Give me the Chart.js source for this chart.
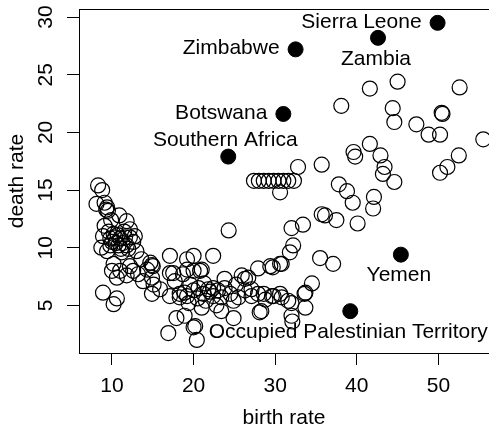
<!DOCTYPE html>
<html lang="en">
    <head>
        <meta charset="UTF-8" />
        <title>birth rate vs death rate</title>
        <script src="https://cdn.jsdelivr.net/npm/chart.js@4.4.1/dist/chart.umd.min.js"></script>
        <style>
            body { margin: 0; background: #fff; overflow: hidden; }
        </style>
    </head>
    <body>
        <canvas id="chart" width="489" height="430"></canvas>
        <script>
        // open circles: (birth rate, death rate)
        const birthRate = [
            8.3, 8.8, 8.1, 9.1, 9.4, 9.5, 9.3, 10.9, 9.9, 9.1, 11.8, 12.2, 11.5, 9.6, 10.2, 10.7, 8.9, 12.8,
            9.8, 10.4, 11.0, 11.6, 12.2, 10.0, 10.5, 11.3, 12.6, 8.7, 9.8, 10.8, 11.8, 11.1, 12.0, 9.4, 11.2,
            13.0, 13.6, 10.2, 10.0, 11.0, 12.2, 12.6, 11.8, 10.6, 13.2, 14.3, 14.7, 14.9, 15.0, 14.9, 13.8,
            15.1, 14.9, 15.9, 8.9, 10.6, 10.2,
            17.1, 19.2, 20.0, 22.4, 17.1, 18.7, 19.2, 20.0, 20.8, 21.0, 17.5, 17.7, 19.6, 21.3, 23.8, 25.2,
            25.9, 26.3, 26.7, 27.9, 29.4, 29.7, 30.6, 30.8, 17.1, 18.3, 18.3, 18.9, 19.2, 19.4, 20.0, 20.5,
            20.6, 21.2, 21.5, 21.8, 22.0, 22.4, 22.4, 22.8, 23.0, 23.4, 23.8, 24.5, 24.9, 25.5, 26.3, 27.1,
            27.1, 27.9, 28.6, 28.8, 29.6, 29.8, 30.6, 30.8, 31.6, 32.0, 33.7, 34.5, 33.6, 33.7, 32.0, 32.1,
            28.1, 28.3, 23.4, 21.0, 24.9, 18.9, 17.9, 20.2, 20.0, 16.9, 20.4, 24.3,
            27.4, 28.0, 28.6, 29.2, 29.8, 30.4, 31.0, 31.6, 32.3, 30.6, 32.8, 35.7, 37.8, 38.8, 39.5, 40.1,
            42.1, 42.0, 35.7, 36.1, 37.5, 32.0, 33.4, 32.2, 31.8, 35.5, 37.1,
            45.0, 41.6, 52.6, 38.1, 44.4, 44.6, 50.4, 50.5, 47.3, 48.8, 50.2, 55.5, 41.6, 39.6, 39.8, 42.9,
            43.4, 43.2, 44.6, 52.5, 51.1, 50.2
        ];
        const deathRate = [
            15.4, 15.0, 13.8, 13.9, 13.5, 13.2, 13.3, 12.8, 12.4, 11.9, 12.3, 11.6, 11.4, 11.4, 11.2, 11.1, 11.0, 11.0,
            10.8, 10.9, 10.8, 10.9, 10.9, 10.5, 10.4, 10.4, 10.5, 10.0, 10.2, 10.2, 10.2, 9.9, 9.9, 9.7, 9.6,
            9.7, 9.0, 8.6, 8.0, 8.0, 8.4, 8.0, 7.6, 7.4, 7.7, 8.1, 8.7, 8.5, 8.4, 7.4, 7.1,
            6.8, 6.0, 6.4, 6.1, 5.6, 5.1,
            9.3, 9.0, 9.3, 9.3, 7.8, 7.7, 8.1, 8.0, 8.0, 8.1, 7.8, 7.1, 6.8, 6.9, 7.3, 6.8,
            7.6, 7.3, 7.4, 8.2, 8.4, 8.3, 8.6, 8.6, 5.8, 5.7, 6.0, 6.1, 5.8, 5.2, 6.3, 5.6,
            6.5, 6.0, 5.4, 6.4, 6.2, 5.8, 6.5, 5.0, 6.3, 5.7, 6.5, 6.0, 5.4, 5.7, 6.3, 5.8,
            6.4, 6.0, 6.0, 5.5, 5.8, 5.8, 6.0, 5.7, 5.4, 5.2, 6.1, 6.9, 6.0, 4.8, 4.1, 3.6,
            4.4, 4.5, 4.5, 4.8, 3.9, 4.1, 3.9, 3.2, 3.1, 2.6, 2.0, 11.5,
            15.8, 15.8, 15.8, 15.8, 15.8, 15.8, 15.8, 15.8, 15.8, 14.8, 17.0, 17.2, 15.5, 14.9, 13.9, 12.1,
            14.4, 13.4, 12.9, 12.8, 12.4, 11.7, 12.0, 10.2, 9.6, 9.1, 8.6,
            24.4, 23.8, 23.9, 22.3, 22.1, 20.9, 21.7, 21.6, 20.7, 19.8, 19.8, 19.4, 19.0, 18.3, 17.9, 18.0,
            17.0, 16.4, 15.7, 18.0, 17.0, 16.5
        ];

        // highlighted countries (filled)
        const hiNames = ['Sierra Leone', 'Zambia', 'Zimbabwe', 'Botswana', 'Southern Africa', 'Yemen', 'Occupied Palestinian Territory'];
        const hiBirth = [49.9, 42.6, 32.5, 31.0, 24.25, 45.4, 39.2];
        const hiDeath = [29.5, 28.2, 27.2, 21.6, 17.9, 9.4, 4.5];
        const hiPos = ['left', 'below', 'left', 'left', 'above', 'below', 'below'];

        const xTicks = [10, 20, 30, 40, 50];
        const yTicks = [5, 10, 15, 20, 25, 30];

        const FONT = "'Liberation Sans', Arial, Helvetica, sans-serif";

        const labelPlugin = {
            id: 'labels',
            afterDatasetsDraw(chart) {
                const ctx = chart.ctx;
                const xs = chart.scales.x, ys = chart.scales.y;
                const a = chart.chartArea;
                ctx.save();
                // top edge of the box
                ctx.strokeStyle = '#000';
                ctx.lineWidth = 1;
                ctx.beginPath();
                ctx.moveTo(a.left, a.top + 0.5);
                ctx.lineTo(a.right, a.top + 0.5);
                ctx.stroke();

                ctx.fillStyle = '#000';
                ctx.font = '21px ' + FONT;
                ctx.textBaseline = 'middle';
                for (let i = 0; i < hiNames.length; i++) {
                    const px = xs.getPixelForValue(hiBirth[i]);
                    const py = ys.getPixelForValue(hiDeath[i]);
                    if (hiPos[i] === 'left') {
                        ctx.textAlign = 'right';
                        ctx.fillText(hiNames[i], px - 16, py - 1);
                    } else if (hiPos[i] === 'below') {
                        ctx.textAlign = 'center';
                        ctx.fillText(hiNames[i], px - 2, py + 21);
                    } else {
                        ctx.textAlign = 'center';
                        ctx.fillText(hiNames[i], px - 3, py - 16);
                    }
                }
                ctx.restore();
            }
        };

        const ctx = document.getElementById('chart').getContext('2d');
        const myChart = new Chart(ctx, {
            type: 'scatter',
            data: {
                datasets: [{
                    data: birthRate.map((b, i) => ({ x: b, y: deathRate[i] })),
                    pointRadius: 7.5,
                    pointHoverRadius: 7.5,
                    borderColor: '#000',
                    backgroundColor: 'rgba(0,0,0,0)',
                    borderWidth: 1.2
                }, {
                    data: hiBirth.map((b, i) => ({ x: b, y: hiDeath[i] })),
                    pointRadius: 7.5,
                    pointHoverRadius: 7.5,
                    borderColor: '#000',
                    backgroundColor: '#000',
                    borderWidth: 1
                }]
            },
            options: {
                responsive: false,
                animation: false,
                events: [],
                layout: { autoPadding: false, padding: { top: 9, left: 0, right: 0, bottom: 0 } },
                plugins: {
                    legend: { display: false },
                    tooltip: { enabled: false }
                },
                scales: {
                    x: {
                        type: 'linear',
                        min: 5.96,
                        max: 56.2,
                        afterBuildTicks: (s) => { s.ticks = xTicks.map(v => ({ value: v })); },
                        afterFit: (s) => { s.height = 77; s.paddingLeft = 0; s.paddingRight = 0; },
                        ticks: { color: '#000', font: { size: 21, family: FONT }, padding: 9, maxRotation: 0 },
                        grid: { drawOnChartArea: false, drawTicks: true, tickLength: 12, color: '#000' },
                        border: { display: true, color: '#000', width: 1 },
                        title: {
                            display: true, text: 'birth rate', color: '#000',
                            font: { size: 21, family: FONT, lineHeight: 1 },
                            padding: { top: 0, bottom: 1 }
                        }
                    },
                    y: {
                        type: 'linear',
                        min: 0.87,
                        max: 30.7,
                        afterBuildTicks: (s) => { s.ticks = yTicks.map(v => ({ value: v })); },
                        afterFit: (s) => { s.width = 79; s.paddingTop = 0; s.paddingBottom = 0; },
                        ticks: {
                            color: '#000', font: { size: 21, family: FONT }, padding: 9,
                            minRotation: 90, maxRotation: 90, crossAlign: 'center', autoSkip: false
                        },
                        grid: { drawOnChartArea: false, drawTicks: true, tickLength: 12, color: '#000' },
                        border: { display: true, color: '#000', width: 1 },
                        title: {
                            display: true, text: 'death rate', color: '#000',
                            font: { size: 21, family: FONT, lineHeight: 1 },
                            padding: { top: 7, bottom: 0 }
                        }
                    }
                }
            },
            plugins: [labelPlugin]
        });
        </script>
    </body>
</html>
